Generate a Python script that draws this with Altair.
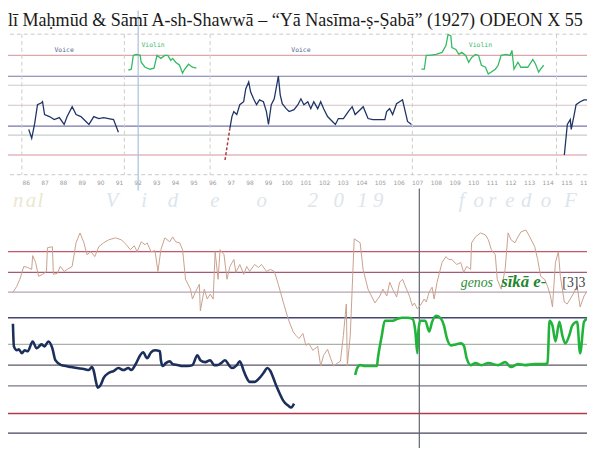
import altair as alt
import pandas as pd

# ---------------- text ----------------
TITLE = "lī Maḥmūd & Sāmī A-sh-Shawwā – “Yā Nasīma-ṣ-Ṣabā” (1927) ODEON X 55"
TICKS = list(range(86, 117))

# ---------------- top panel (time in s, pitch in cents) ----------------
top_levels = [1000, 790, 700, 500, 290, 200, 0]
top_level_names = ["L1", "L2", "L3", "L4", "L5", "L6", "L7"]
top_frame = [1213, -198]
seg_bounds = [85.79, 91.29, 95.89, 106.74, 114.47]
top_cursor_s = [92.03]
top_cursor_c = [1450, -356]

voice1_s = [86.16, 86.32, 86.48, 86.63, 86.85, 86.90, 87.01, 87.27, 87.53, 87.80, 88.06, 88.22,
            88.49, 88.70, 88.96, 89.12, 89.39, 89.65, 89.92, 90.18, 90.44, 90.71, 90.97]
voice1_c = [257, 168, 317, 505, 525, 535, 406, 386, 356, 376, 307, 386,
            485, 406, 386, 356, 307, 386, 366, 376, 366, 356, 228]

violin1_s = [91.50, 91.66, 91.77, 91.93, 92.14, 92.19, 92.40, 92.67, 92.88, 93.04, 93.25,
             93.46, 93.62, 93.78, 93.88, 94.04, 94.25, 94.41, 94.52, 94.73, 94.94, 95.15]
violin1_c = [851, 861, 1000, 1010, 1000, 931, 881, 861, 871, 1000, 970,
             1000, 1000, 950, 970, 931, 901, 822, 861, 911, 881, 871]

glide_s = [96.69, 96.82, 96.95]
glide_c = [-50, 110, 267]

voice2_s = [96.95, 97.06, 97.16, 97.32, 97.48, 97.69, 97.80, 97.96, 98.06, 98.22,
            98.38, 98.54, 98.75, 98.91, 99.02, 99.17, 99.33, 99.55, 99.65, 99.76,
            99.97, 100.13, 100.39, 100.60, 100.76, 100.92, 101.13, 101.29, 101.45, 101.66,
            101.82, 101.98, 102.19, 102.45, 102.61, 102.77, 103.04, 103.30, 103.51, 103.67,
            103.94, 104.10, 104.36, 104.62, 104.99, 105.26, 105.36, 105.52, 105.68, 105.89,
            106.05, 106.21, 106.32, 106.48, 106.69]
voice2_c = [267, 386, 436, 406, 505, 535, 663, 733, 634, 564,
            505, 554, 535, 436, 307, 505, 564, 792, 604, 515,
            465, 436, 455, 505, 564, 505, 535, 465, 535, 465,
            535, 465, 386, 337, 307, 366, 366, 436, 485, 406,
            455, 485, 366, 356, 356, 356, 436, 465, 406, 515,
            535, 554, 465, 337, 307]

violin2_s = [107.22, 107.38, 107.48, 107.64, 108.01, 108.33, 108.54, 108.65, 108.80, 108.86,
             109.07, 109.23, 109.39, 109.60, 109.76, 109.92, 110.13, 110.29, 110.44, 110.66,
             110.81, 111.19, 111.34, 111.50, 111.77, 111.98, 112.08, 112.19, 112.40, 112.56,
             112.93, 113.20, 113.35, 113.51, 113.62, 113.78]
violin2_c = [861, 861, 1000, 1000, 1010, 1030, 1099, 1208, 1198, 1079,
             1059, 1010, 1030, 1000, 931, 980, 1010, 1000, 901, 881,
             812, 861, 901, 1000, 1010, 1000, 1050, 861, 931, 881,
             881, 960, 911, 832, 861, 901]

voice3_s = [114.89, 115.05, 115.21, 115.26, 115.42, 115.52, 115.74, 115.95, 116.11]
voice3_c = [0, 307, 356, 257, 406, 505, 535, 554, 554]

part_labels = ["Voice", "Violin", "Voice", "Violin"]
part_label_s = [88.06, 92.83, 100.76, 110.39]
part_label_c = [1050, 1099, 1050, 1099]

# ---------------- bottom panel (time rel. to cursor in s, pitch in cents) ----------------
bot_levels = [820, 715, 615, 485, 350, 245, 140, 0, -100, -205]
bot_level_names = ["B1", "B2", "B3", "B4", "B5", "B6", "B7", "B8", "B9", "B10"]
bot_cursor_t = [0.0]
bot_cursor_b = [1140, -300]

navy_t = [-4.12, -4.11, -4.08, -4.06, -4.03, -4.00, -3.97, -3.92, -3.88, -3.83,
          -3.80, -3.76, -3.72, -3.69, -3.63, -3.58, -3.53, -3.47, -3.40, -3.35,
          -3.32, -3.30, -3.28, -3.26, -3.23, -3.20, -3.15, -3.10, -3.05, -3.00,
          -2.95, -2.92, -2.87, -2.83, -2.80, -2.76, -2.72, -2.68, -2.63, -2.62,
          -2.60, -2.57, -2.53, -2.50, -2.45, -2.40, -2.35, -2.30, -2.25, -2.22,
          -2.17, -2.12, -2.08, -2.05, -2.01, -1.97, -1.93, -1.90, -1.85, -1.82,
          -1.78, -1.75, -1.72, -1.67, -1.62, -1.58, -1.54, -1.51, -1.48, -1.45,
          -1.41, -1.38, -1.33, -1.30, -1.27]
navy_b = [455, 340, 320, 325, 305, 320, 315, 365, 330, 350,
          340, 365, 330, 270, 245, 240, 235, 230, 225, 220,
          235, 215, 165, 130, 145, 180, 205, 215, 230, 220,
          230, 220, 255, 295, 310, 280, 310, 320, 315, 270,
          240, 255, 265, 250, 245, 240, 240, 245, 295, 270,
          260, 270, 245, 245, 255, 270, 245, 230, 245, 265,
          215, 180, 160, 160, 180, 205, 230, 215, 180, 140,
          95, 65, 40, 30, 50]

tan_t = [-4.12, -4.08, -4.05, -4.01, -3.97, -3.93, -3.92, -3.89, -3.86, -3.82,
         -3.78, -3.77, -3.72, -3.71, -3.67, -3.64, -3.60, -3.57, -3.52, -3.48,
         -3.44, -3.40, -3.37, -3.33, -3.29, -3.25, -3.20, -3.15, -3.08, -3.02,
         -2.97, -2.93, -2.89, -2.86, -2.82, -2.78, -2.76, -2.72, -2.68, -2.65,
         -2.62, -2.58, -2.53, -2.50, -2.47, -2.43, -2.40, -2.37, -2.32, -2.30,
         -2.27, -2.23, -2.22, -2.18, -2.15, -2.12, -2.09, -2.07, -2.04, -2.02,
         -1.98, -1.95, -1.92, -1.88, -1.86, -1.82, -1.78, -1.75, -1.72, -1.67,
         -1.63, -1.60, -1.55, -1.51, -1.47, -1.43, -1.38, -1.33, -1.28, -1.25,
         -1.22, -1.18, -1.15, -1.12, -1.08, -1.03, -1.00, -0.97, -0.93, -0.90,
         -0.87, -0.83, -0.80, -0.77, -0.74, -0.73, -0.70, -0.66, -0.60, -0.57,
         -0.52, -0.45, -0.40, -0.37, -0.33, -0.30, -0.27, -0.23, -0.20, -0.17,
         -0.13, -0.10, -0.07, -0.05, -0.02, 0.02, 0.05, 0.07, 0.10, 0.13,
         0.15, 0.18, 0.23, 0.27, 0.30, 0.33, 0.38, 0.42, 0.45, 0.48,
         0.52, 0.53, 0.57, 0.62, 0.67, 0.70, 0.73, 0.77, 0.79, 0.83,
         0.87, 0.90, 0.93, 0.97, 1.00, 1.03, 1.08, 1.12, 1.17, 1.20,
         1.23, 1.27, 1.30, 1.33, 1.35, 1.38, 1.41, 1.43, 1.47, 1.50,
         1.53, 1.57, 1.60, 1.63, 1.67, 1.70]
tan_b = [615, 645, 680, 745, 740, 730, 800, 765, 695, 705,
         720, 840, 845, 705, 710, 745, 720, 730, 745, 865,
         915, 865, 805, 820, 795, 845, 865, 880, 890, 880,
         855, 830, 850, 820, 870, 855, 865, 820, 825, 720,
         830, 890, 870, 895, 870, 865, 830, 680, 630, 580,
         615, 655, 520, 630, 580, 605, 580, 820, 680, 830,
         805, 680, 745, 780, 715, 755, 705, 745, 720, 755,
         740, 755, 720, 730, 720, 655, 565, 480, 415, 395,
         380, 405, 345, 355, 320, 340, 240, 295, 325, 280,
         240, 255, 265, 395, 555, 240, 395, 885, 865, 730,
         630, 560, 595, 630, 595, 665, 630, 590, 665, 680,
         630, 595, 545, 560, 530, 555, 580, 565, 615, 640,
         580, 665, 765, 795, 780, 780, 755, 765, 715, 745,
         730, 865, 895, 915, 905, 880, 830, 805, 680, 630,
         730, 915, 880, 865, 895, 920, 930, 895, 845, 780,
         695, 680, 645, 595, 540, 765, 820, 695, 565, 555,
         580, 615, 645, 540, 595, 620]

green_t = [-0.65, -0.63, -0.60, -0.55, -0.43, -0.42, -0.38, -0.35, -0.27, -0.22,
           -0.17, -0.12, -0.07, -0.04, -0.02, -0.01, 0.01, 0.06, 0.10, 0.13,
           0.17, 0.22, 0.25, 0.28, 0.32, 0.37, 0.42, 0.45, 0.48, 0.52,
           0.57, 0.63, 0.70, 0.80, 0.87, 0.93, 1.00, 1.07, 1.17, 1.27,
           1.30, 1.32, 1.35, 1.38, 1.42, 1.45, 1.48, 1.52, 1.55, 1.60,
           1.63, 1.67, 1.70]
green_b = [195, 230, 245, 240, 240, 280, 395, 470, 470, 480,
           485, 485, 480, 415, 305, 415, 470, 470, 415, 465,
           495, 480, 445, 380, 345, 350, 355, 345, 280, 245,
           255, 245, 255, 245, 260, 235, 250, 245, 250, 250,
           255, 470, 445, 365, 465, 395, 355, 395, 445, 465,
           305, 465, 480]

wm_chars = ["n", "a", "l", "V", "i", "d", "e", "o", "2", "0", "1", "9",
            "f", "o", "r", "e", "d", "o", "F"]
wm_group = ["w1"] * 3 + ["w2"] * 16
wm_t = [-4.12, -3.99, -3.87, -3.18, -2.82, -2.55, -2.12, -1.65, -1.13, -0.87, -0.63, -0.47,
        0.40, 0.55, 0.70, 0.87, 1.03, 1.23, 1.47]
wm_b = 1045

genos_parts = ["genos", "sīkā e-", "[3]3"]
genos_t = [0.42, 0.83, 1.45]
genos_b = 640

# ---------------- styles ----------------
W, H = 587, 440
TX = alt.Scale(domain=[85.048, 116.106], nice=False, zero=False)
TY = alt.Scale(domain=[-400, 1500], range=[186.4, -5.5], nice=False, zero=False)
BX = alt.Scale(domain=[-4.17, 1.70], nice=False, zero=False)
BY = alt.Scale(domain=[-250, 1200], range=[458, 168], nice=False, zero=False)

top_level_colors = ["#dba6ac", "#7676aa", "#c6cec6", "#d6c2c6", "#7676aa", "#c6cec6", "#d6949e"]
bot_level_colors = ["#c4566a", "#a45a74", "#b8a3b3", "#45456f", "#aab2aa", "#5e5466",
                    "#7e7486", "#b23a4a", "#44445e", "#8e8e8e"]
NAVY = "#1e3566"
GREEN_TOP = "#34bb62"

layers = []

# top horizontal levels
df = pd.DataFrame({"c": top_levels, "k": top_level_names})
layers.append(alt.Chart(df).mark_rule(strokeWidth=1.1).encode(
    y=alt.Y("c:Q", scale=TY, axis=None),
    color=alt.Color("k:N", scale=alt.Scale(domain=top_level_names, range=top_level_colors), legend=None)))

# top dashed frame
df = pd.DataFrame({"c": top_frame})
layers.append(alt.Chart(df).mark_rule(strokeWidth=1, color="#c8c8c8", strokeDash=[4, 3]).encode(
    y=alt.Y("c:Q", scale=TY, axis=None)))

# segment boundaries
df = pd.DataFrame({"s": seg_bounds, "c0": top_frame[0], "c1": top_frame[1]})
layers.append(alt.Chart(df).mark_rule(strokeWidth=1, color="#cccccc", strokeDash=[4, 3]).encode(
    x=alt.X("s:Q", scale=TX, axis=None),
    y=alt.Y("c0:Q", scale=TY, axis=None), y2="c1:Q"))

# top cursor
df = pd.DataFrame({"s": top_cursor_s, "c0": top_cursor_c[0], "c1": top_cursor_c[1]})
layers.append(alt.Chart(df).mark_rule(strokeWidth=1.2, color="#a9bfdc").encode(
    x=alt.X("s:Q", scale=TX, axis=None),
    y=alt.Y("c0:Q", scale=TY, axis=None), y2="c1:Q"))

# voice (top) with the time axis
voice = pd.DataFrame({
    "s": voice1_s + voice2_s + voice3_s,
    "c": voice1_c + voice2_c + voice3_c,
    "seg": ["v1"] * len(voice1_s) + ["v2"] * len(voice2_s) + ["v3"] * len(voice3_s)})
layers.append(alt.Chart(voice).mark_line(strokeWidth=1.3, color=NAVY, clip=True).encode(
    x=alt.X("s:Q", scale=TX, axis=alt.Axis(values=TICKS, offset=-274, grid=False, domain=False,
                                            ticks=False, labelFontSize=6, labelColor="#9a9a9a",
                                            labelFont="DejaVu Sans", labelPadding=5,
                                            labelFlush=False, labelOverlap=False, format="d",
                                            title="")),
    y=alt.Y("c:Q", scale=TY, axis=None), detail="seg:N"))

violin = pd.DataFrame({
    "s": violin1_s + violin2_s,
    "c": violin1_c + violin2_c,
    "seg": ["g1"] * len(violin1_s) + ["g2"] * len(violin2_s)})
layers.append(alt.Chart(violin).mark_line(strokeWidth=1.3, color=GREEN_TOP, clip=True).encode(
    x=alt.X("s:Q", scale=TX, axis=None),
    y=alt.Y("c:Q", scale=TY, axis=None), detail="seg:N"))

df = pd.DataFrame({"s": glide_s, "c": glide_c})
layers.append(alt.Chart(df).mark_line(strokeWidth=1.5, color="#b03a3a", strokeDash=[3, 2]).encode(
    x=alt.X("s:Q", scale=TX, axis=None), y=alt.Y("c:Q", scale=TY, axis=None)))

df = pd.DataFrame({"s": part_label_s, "c": part_label_c, "t": part_labels})
layers.append(alt.Chart(df).mark_text(font="DejaVu Sans Mono", fontSize=6.5, baseline="middle").encode(
    x=alt.X("s:Q", scale=TX, axis=None), y=alt.Y("c:Q", scale=TY, axis=None), text="t:N",
    color=alt.Color("t:N", scale=alt.Scale(domain=["Voice", "Violin"], range=["#55648f", "#3dba6b"]),
                    legend=None)))

# title
df = pd.DataFrame({"s": [85.048], "c": [1297], "t": [TITLE]})
layers.append(alt.Chart(df).mark_text(font="Liberation Serif", fontSize=18.3, align="left",
                                      baseline="alphabetic", color="#1a1a1a").encode(
    x=alt.X("s:Q", scale=TX, axis=None), y=alt.Y("c:Q", scale=TY, axis=None), text="t:N"))

# ---------------- bottom panel ----------------
df = pd.DataFrame({"t": wm_t, "b": wm_b, "ch": wm_chars, "g": wm_group})
layers.append(alt.Chart(df).mark_text(font="Liberation Serif", fontSize=21, fontStyle="italic",
                                      align="left", baseline="alphabetic").encode(
    x=alt.X("t:Q", scale=BX, axis=None), y=alt.Y("b:Q", scale=BY, axis=None), text="ch:N",
    color=alt.Color("g:N", scale=alt.Scale(domain=["w1", "w2"], range=["#ebe7d2", "#dde5ec"]),
                    legend=None)))

df = pd.DataFrame({"b": bot_levels, "k": bot_level_names})
layers.append(alt.Chart(df).mark_rule(strokeWidth=1.4).encode(
    y=alt.Y("b:Q", scale=BY, axis=None),
    color=alt.Color("k:N", scale=alt.Scale(domain=bot_level_names, range=bot_level_colors), legend=None)))

df = pd.DataFrame({"t": bot_cursor_t, "b0": bot_cursor_b[0], "b1": bot_cursor_b[1]})
layers.append(alt.Chart(df).mark_rule(strokeWidth=1.2, color="#5d6472").encode(
    x=alt.X("t:Q", scale=BX, axis=None),
    y=alt.Y("b0:Q", scale=BY, axis=None), y2="b1:Q"))

df = pd.DataFrame({"t": tan_t, "b": tan_b})
layers.append(alt.Chart(df).mark_line(strokeWidth=1, color="#c9a08d", clip=True).encode(
    x=alt.X("t:Q", scale=BX, axis=None), y=alt.Y("b:Q", scale=BY, axis=None)))

df = pd.DataFrame({"t": navy_t, "b": navy_b})
layers.append(alt.Chart(df).mark_line(strokeWidth=2.6, color="#1b2f5c", clip=True,
                                      interpolate="monotone").encode(
    x=alt.X("t:Q", scale=BX, axis=None), y=alt.Y("b:Q", scale=BY, axis=None)))

df = pd.DataFrame({"t": green_t, "b": green_b})
layers.append(alt.Chart(df).mark_line(strokeWidth=2.6, color="#22b43a", clip=True,
                                      interpolate="monotone").encode(
    x=alt.X("t:Q", scale=BX, axis=None), y=alt.Y("b:Q", scale=BY, axis=None)))

df = pd.DataFrame({"t": [genos_t[0]], "b": [genos_b], "s": [genos_parts[0]]})
layers.append(alt.Chart(df).mark_text(font="Liberation Serif", fontSize=14, fontStyle="italic",
                                      align="left", baseline="alphabetic", color="#2e8c3a").encode(
    x=alt.X("t:Q", scale=BX, axis=None), y=alt.Y("b:Q", scale=BY, axis=None), text="s:N"))
df = pd.DataFrame({"t": [genos_t[1]], "b": [genos_b], "s": [genos_parts[1]]})
layers.append(alt.Chart(df).mark_text(font="Liberation Serif", fontSize=17, fontStyle="italic",
                                      fontWeight="bold", align="left", baseline="alphabetic",
                                      color="#1f862e").encode(
    x=alt.X("t:Q", scale=BX, axis=None), y=alt.Y("b:Q", scale=BY, axis=None), text="s:N"))
df = pd.DataFrame({"t": [genos_t[2]], "b": [genos_b], "s": [genos_parts[2]]})
layers.append(alt.Chart(df).mark_text(font="Liberation Serif", fontSize=14, align="left",
                                      baseline="alphabetic", color="#444444").encode(
    x=alt.X("t:Q", scale=BX, axis=None), y=alt.Y("b:Q", scale=BY, axis=None), text="s:N"))

chart = alt.layer(*layers).resolve_scale(
    x="independent", y="independent", color="independent"
).properties(
    width=W, height=H, padding=0, background="white",
    autosize=alt.AutoSizeParams(type="none")
).configure_view(stroke=None)

chart.save("out.html", embed_options={"renderer": "svg", "actions": False})
